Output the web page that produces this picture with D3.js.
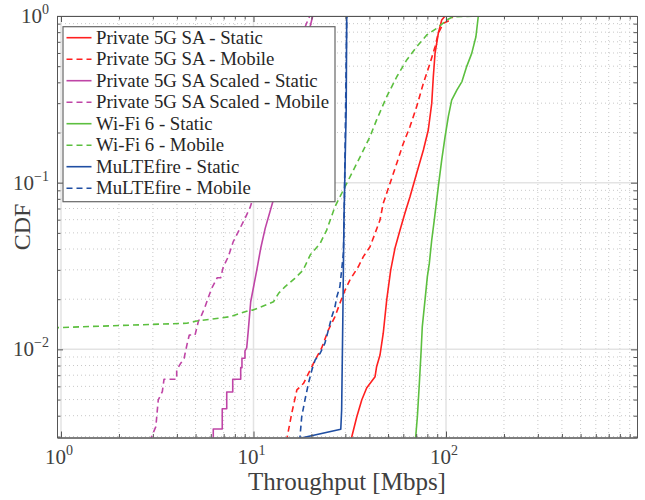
<!DOCTYPE html>
<html><head><meta charset="utf-8">
<script src="https://cdn.jsdelivr.net/npm/d3@7"></script>
<style>body{margin:0;background:#fff}svg{display:block}
svg text{font-family:"Liberation Serif","Times New Roman","DejaVu Serif",serif;}</style>
</head><body>
<svg id="c" width="645" height="500"></svg>
<script>
// ---- data ----
const xTicks = [1, 10, 100];
const yTicks = [0.01, 0.1, 1];
const xLabel = "Throughput [Mbps]";
const yLabel = "CDF";

const seriesNames = [
  "Private 5G SA - Static", "Private 5G SA - Mobile",
  "Private 5G SA Scaled - Static", "Private 5G SA Scaled - Mobile",
  "Wi-Fi 6 - Static", "Wi-Fi 6 - Mobile",
  "MuLTEfire - Static", "MuLTEfire - Mobile"
];
const seriesColors = ["#ff2020", "#ff2020", "#bf45a6", "#bf45a6", "#5cbf3f", "#5cbf3f", "#1f4ea3", "#1f4ea3"];
const seriesDashed = [false, true, false, true, false, true, false, true];

const p5gStatic = [[32.2,0.0028],[32.4,0.00299],[34.4,0.00394],[36.5,0.00497],[38.7,0.00586],[42.8,0.00686],[43.6,0.00787],[45.4,0.00925],[47.2,0.0125],[49.2,0.0198],[51.6,0.0299],[54.3,0.0404],[57.7,0.052],[61.2,0.0658],[65.0,0.0824],[70.4,0.114],[76.3,0.157],[80.9,0.207],[84.3,0.299],[85.9,0.432],[87.7,0.597],[91.2,0.788],[95.0,0.946],[98.9,1]];
const p5gMobile = [[14.8,0.0028],[14.9,0.0029],[15.8,0.00414],[16.8,0.00571],[18.2,0.00626],[19.7,0.00752],[20.9,0.00864],[22.6,0.0102],[24.5,0.0131],[26.5,0.0157],[28.1,0.0189],[29.9,0.0227],[31.7,0.0261],[35.0,0.0313],[37.2,0.036],[40.3,0.0413],[42.8,0.0497],[45.4,0.0597],[47.2,0.0752],[51.2,0.0991],[55.5,0.131],[60.0,0.172],[65.0,0.217],[70.4,0.286],[76.3,0.395],[82.6,0.52],[87.7,0.654],[91.2,0.788],[96.8,0.904],[105,0.946],[109,1]];
const scaledStatic = [[6.18,0.0028],[6.18,0.00333],[6.88,0.00333],[6.88,0.0044],[7.26,0.0044],[7.26,0.00555],[7.80,0.00555],[7.80,0.00662],[8.58,0.00662],[8.58,0.00777],[8.71,0.00777],[8.71,0.00885],[9.03,0.00885],[9.03,0.0098],[9.22,0.0102],[9.40,0.0131],[9.67,0.0193],[10.4,0.0299],[10.9,0.0404],[11.5,0.0532],[12.6,0.0769],[14.6,0.157],[16.4,0.313],[18.1,0.545],[19.2,0.769],[20.3,1]];
const scaledMobile = [[2.92,0.0028],[2.92,0.0029],[3.11,0.00344],[3.20,0.00497],[3.36,0.00558],[3.43,0.00662],[3.99,0.00662],[3.99,0.00752],[4.19,0.00826],[4.36,0.00885],[4.53,0.0109],[4.64,0.0122],[4.97,0.0122],[5.17,0.0147],[5.38,0.0161],[5.60,0.018],[5.89,0.0212],[6.06,0.0232],[6.48,0.0269],[6.75,0.0269],[6.97,0.0313],[7.40,0.036],[7.85,0.0443],[8.34,0.0508],[9.03,0.0611],[9.59,0.0708],[11.1,0.119],[13.2,0.222],[15.5,0.413],[17.5,0.67],[18.7,0.883],[19.6,1]];
const wifiStatic = [[69.3,0.0028],[69.6,0.00299],[71.0,0.00394],[72.7,0.00626],[74.3,0.00992],[75.3,0.0137],[77.8,0.0198],[80.0,0.0273],[81.9,0.0328],[84.3,0.0453],[86.9,0.0597],[91.2,0.0946],[95.0,0.137],[98.9,0.189],[102.8,0.249],[107,0.313],[114,0.36],[121,0.404],[128,0.497],[136,0.597],[143,0.751],[147,0.99],[148,1]];
const wifiMobile = [[0.5,0.0134],[0.953,0.0135],[4.50,0.01435],[5.07,0.0148],[7.55,0.0157],[9.59,0.0172],[9.94,0.0172],[12.7,0.0193],[13.5,0.0217],[14.6,0.0238],[16.4,0.0267],[18.1,0.0299],[19.7,0.0368],[22.2,0.0433],[24.0,0.052],[26.5,0.0718],[30.5,0.0991],[35.8,0.143],[40.3,0.189],[43.6,0.238],[49.2,0.328],[55.5,0.432],[62.5,0.545],[70.4,0.654],[79.4,0.769],[89.5,0.844],[100.9,0.946],[109,0.99],[150,1]];
const mlfStatic = [[16.8,0.0029],[28.4,0.00332],[28.7,0.00433],[29.1,0.015],[29.5,0.0597],[30.3,0.273],[30.5,1]];
const mlfMobile = [[17.4,0.0028],[17.4,0.0029],[17.8,0.00394],[18.5,0.00497],[19.3,0.00626],[20.1,0.00752],[20.9,0.00864],[22.2,0.00948],[23.5,0.0109],[24.5,0.0131],[25.5,0.0157],[26.5,0.018],[27.1,0.0207],[28.1,0.0238],[28.7,0.0299],[29.3,0.0377],[29.5,0.052],[29.9,0.157],[30.5,1]];
const seriesData = [p5gStatic, p5gMobile, scaledStatic, scaledMobile, wifiStatic, wifiMobile, mlfStatic, mlfMobile];

// ---- layout ----
const L = 57, R = 637, T = 16, B = 437.5;
const svg = d3.select("#c");
const x = d3.scaleLog().domain([0.9533, 982]).range([L, R]);
const y = d3.scaleLog().domain([0.00296, 1]).range([B, T]);

function minors(scale) {
  const [a, b] = scale.domain();
  const out = [];
  for (let e = Math.floor(Math.log10(a)); e <= Math.ceil(Math.log10(b)); e++)
    for (let k = 2; k <= 9; k++) { const v = k * Math.pow(10, e); if (v > a && v < b) out.push(v); }
  return out;
}
const xMinor = minors(x), yMinor = minors(y);

// grid
const g = svg.append("g");
g.selectAll(".xm").data(xMinor).join("line").attr("x1", d => x(d)).attr("x2", d => x(d)).attr("y1", T).attr("y2", B)
  .attr("stroke", "#c8c8c8").attr("stroke-width", 1).attr("stroke-dasharray", "1,3");
g.selectAll(".ym").data(yMinor).join("line").attr("y1", d => y(d)).attr("y2", d => y(d)).attr("x1", L).attr("x2", R)
  .attr("stroke", "#c8c8c8").attr("stroke-width", 1).attr("stroke-dasharray", "1,3");
g.selectAll(".xM").data(xTicks).join("line").attr("x1", d => x(d)).attr("x2", d => x(d)).attr("y1", T).attr("y2", B)
  .attr("stroke", "#e3e3e3").attr("stroke-width", 1.5);
g.selectAll(".yM").data(yTicks).join("line").attr("y1", d => y(d)).attr("y2", d => y(d)).attr("x1", L).attr("x2", R)
  .attr("stroke", "#e3e3e3").attr("stroke-width", 1.5);

// curves
svg.append("clipPath").attr("id", "clip").append("rect").attr("x", L).attr("y", T).attr("width", R - L).attr("height", B - T);
const line = d3.line().x(d => x(d[0])).y(d => y(d[1]));
const cg = svg.append("g").attr("clip-path", "url(#clip)");
seriesData.forEach((s, i) => {
  cg.append("path").attr("d", line(s)).attr("fill", "none").attr("stroke", seriesColors[i])
    .attr("stroke-width", 1.6).attr("stroke-dasharray", seriesDashed[i] ? "6,4" : null).attr("stroke-linejoin", "round");
});

// axes box + ticks
const axCol = "#555";
function ax(gen, tr, vals, size) {
  svg.append("g").attr("transform", tr).call(gen.tickValues(vals).tickSize(size).tickSizeOuter(0).tickFormat(""))
    .call(s => { s.select(".domain").attr("stroke", axCol); s.selectAll("line").attr("stroke", axCol); });
}
ax(d3.axisBottom(x), `translate(0,${B})`, xTicks, -6); ax(d3.axisBottom(x), `translate(0,${B})`, xMinor, -3.5);
ax(d3.axisTop(x), `translate(0,${T})`, xTicks, -6); ax(d3.axisTop(x), `translate(0,${T})`, xMinor, -3.5);
ax(d3.axisLeft(y), `translate(${L},0)`, yTicks, -6); ax(d3.axisLeft(y), `translate(${L},0)`, yMinor, -3.5);
ax(d3.axisRight(y), `translate(${R},0)`, yTicks, -6); ax(d3.axisRight(y), `translate(${R},0)`, yMinor, -3.5);

// tick labels
const tcol = "#404040";
function pow(sel, v) {
  const e = Math.round(Math.log10(v));
  sel.append("tspan").text("10");
  sel.append("tspan").attr("dy", -9).style("font-size", "14px").text(e < 0 ? "\u2212" + (-e) : String(e));
}
xTicks.forEach(v => {
  const t = svg.append("text").attr("x", x(v) - 2).attr("y", 464).attr("text-anchor", "middle")
    .style("font-size", "21px").attr("fill", tcol);
  pow(t, v);
});
yTicks.forEach(v => {
  const t = svg.append("text").attr("x", 49).attr("y", y(v) + 7).attr("text-anchor", "end")
    .style("font-size", "21px").attr("fill", tcol);
  pow(t, v);
});

// axis labels
svg.append("text").attr("x", 347).attr("y", 490).attr("text-anchor", "middle")
  .style("font-size", "25px").attr("fill", tcol).text(xLabel);
svg.append("text").attr("transform", "translate(30,227) rotate(-90)").attr("text-anchor", "middle")
  .style("font-size", "24px").attr("fill", tcol).text(yLabel);

// legend
const lg = svg.append("g");
lg.append("rect").attr("x", 63).attr("y", 26.7).attr("width", 272).attr("height", 175).attr("fill", "#fff")
  .attr("stroke", "#666").attr("stroke-width", 1.2);
seriesNames.forEach((n, i) => {
  const cy = 37.7 + i * 21.5;
  lg.append("line").attr("x1", 66.5).attr("x2", 91.5).attr("y1", cy).attr("y2", cy).attr("stroke", seriesColors[i])
    .attr("stroke-width", 1.6).attr("stroke-dasharray", seriesDashed[i] ? "6,4" : null);
  lg.append("text").attr("x", 96).attr("y", cy + 6).style("font-size", "18.8px").attr("fill", "#262626").text(n);
});
</script>
</body></html>
